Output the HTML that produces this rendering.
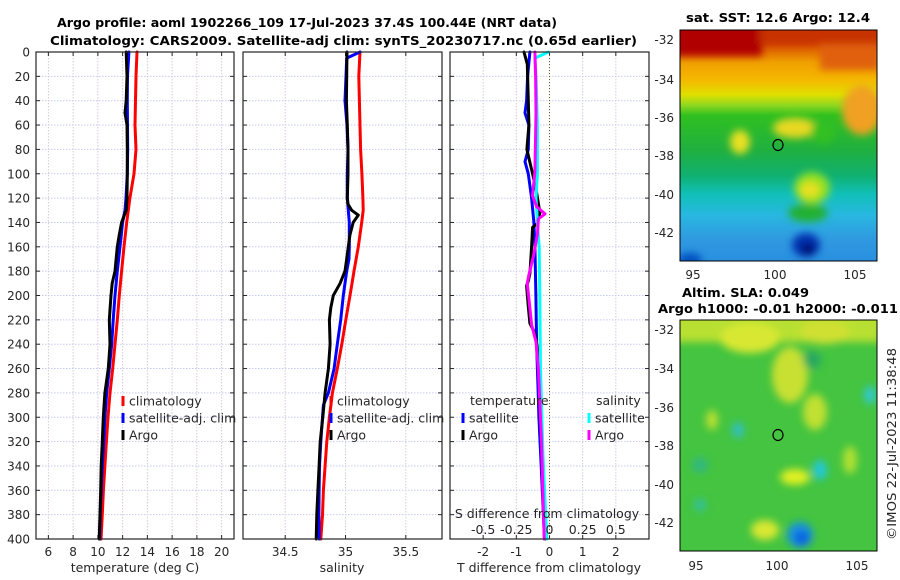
<!DOCTYPE html>
<html><head><meta charset="utf-8">
<style>
html,body{margin:0;padding:0;background:#fff;}
svg{display:block;font-family:"DejaVu Sans","Liberation Sans",sans-serif;}
</style></head>
<body>
<svg id="fig" xmlns="http://www.w3.org/2000/svg" width="900" height="580" viewBox="0 0 900 580">
<defs>
<filter id="blur4" x="-20%" y="-20%" width="140%" height="140%"><feGaussianBlur stdDeviation="4"/></filter>
<filter id="blur2" x="-20%" y="-20%" width="140%" height="140%"><feGaussianBlur stdDeviation="2"/></filter>
<clipPath id="clipSST"><rect x="680" y="30" width="197" height="231"/></clipPath>
<clipPath id="clipSLA"><rect x="680" y="320" width="197" height="231"/></clipPath>
<linearGradient id="sstGrad" x1="0" y1="0" x2="0" y2="1">
<stop offset="0" stop-color="#c02800"/><stop offset="0.065" stop-color="#d85000"/>
<stop offset="0.14" stop-color="#f0a000"/><stop offset="0.216" stop-color="#f5b800"/>
<stop offset="0.28" stop-color="#e0e000"/><stop offset="0.325" stop-color="#90d820"/>
<stop offset="0.37" stop-color="#30c020"/><stop offset="0.52" stop-color="#20b040"/>
<stop offset="0.63" stop-color="#10b070"/><stop offset="0.71" stop-color="#10c0b8"/>
<stop offset="0.80" stop-color="#28b8e0"/><stop offset="0.91" stop-color="#3098e0"/>
<stop offset="1" stop-color="#2890e0"/>
</linearGradient>
</defs>

<g font-weight="bold" font-size="12" fill="#000">
<text x="57" y="27" textLength="500" lengthAdjust="spacingAndGlyphs">Argo profile: aoml 1902266_109 17-Jul-2023 37.4S 100.44E (NRT data)</text>
<text x="50" y="45" textLength="587" lengthAdjust="spacingAndGlyphs">Climatology: CARS2009. Satellite-adj clim: synTS_20230717.nc (0.65d earlier)</text>
</g>

<g id="panels"></g>

<!-- SST map -->
<g>
<g clip-path="url(#clipSST)">
<rect x="680" y="30" width="197" height="231" fill="url(#sstGrad)"/>
<g filter="url(#blur4)">
<rect x="672" y="24" width="90" height="32" fill="#b00000"/>
<rect x="760" y="24" width="120" height="20" fill="#c83000"/>
<rect x="820" y="44" width="60" height="26" fill="#e06010"/>
<ellipse cx="862" cy="110" rx="20" ry="25" fill="#f0a020"/>
<ellipse cx="795" cy="128" rx="22" ry="10" fill="#e8d820"/>
<ellipse cx="823" cy="132" rx="12" ry="12" fill="#30c020"/>
<ellipse cx="740" cy="142" rx="10" ry="12" fill="#e8e020"/>
<ellipse cx="812" cy="188" rx="18" ry="16" fill="#90e020"/>
<ellipse cx="810" cy="190" rx="10" ry="8" fill="#e8e020"/>
<ellipse cx="808" cy="213" rx="20" ry="9" fill="#20b030"/>
<ellipse cx="806" cy="245" rx="14" ry="12" fill="#0030b0"/>
<ellipse cx="808" cy="249" rx="7" ry="6" fill="#001070"/>
<ellipse cx="690" cy="260" rx="12" ry="7" fill="#0050c0"/>
</g>
</g>
<rect x="680" y="30" width="197" height="231" fill="none" stroke="#000" stroke-width="1"/>
<ellipse cx="778" cy="145" rx="5" ry="5.5" fill="none" stroke="#000" stroke-width="1.2"/>
<text x="778" y="22" text-anchor="middle" font-weight="bold" font-size="12" textLength="184" lengthAdjust="spacingAndGlyphs">sat. SST: 12.6 Argo: 12.4</text>
<g font-size="12" fill="#262626" text-anchor="end">
<text x="674" y="44">-32</text><text x="674" y="84">-34</text><text x="674" y="122">-36</text>
<text x="674" y="160">-38</text><text x="674" y="199">-40</text><text x="674" y="237">-42</text>
</g>
<g font-size="12" fill="#262626" text-anchor="middle">
<text x="693" y="279">95</text><text x="775" y="279">100</text><text x="855" y="279">105</text>
</g>
</g>

<!-- SLA map -->
<g>
<g clip-path="url(#clipSLA)">
<rect x="680" y="320" width="197" height="231" fill="#44c440"/>
<g filter="url(#blur4)">
<rect x="672" y="312" width="210" height="30" fill="#b8e030"/>
<ellipse cx="750" cy="338" rx="30" ry="15" fill="#d8e830"/>
<ellipse cx="825" cy="332" rx="25" ry="12" fill="#d0e030"/>
<ellipse cx="790" cy="375" rx="18" ry="28" fill="#c8e030"/>
<ellipse cx="815" cy="412" rx="12" ry="18" fill="#c0e030"/>
<ellipse cx="812" cy="360" rx="9" ry="9" fill="#28a860"/>
<ellipse cx="738" cy="430" rx="6" ry="8" fill="#30c0c0"/>
<ellipse cx="870" cy="395" rx="6" ry="9" fill="#30c8d0"/>
<ellipse cx="820" cy="470" rx="7" ry="10" fill="#20c8d8"/>
<ellipse cx="800" cy="535" rx="13" ry="13" fill="#1890e0"/>
<ellipse cx="802" cy="538" rx="7" ry="7" fill="#1060e0"/>
<ellipse cx="700" cy="505" rx="6" ry="6" fill="#30c0a0"/>
<ellipse cx="700" cy="465" rx="8" ry="8" fill="#30b880"/>
<ellipse cx="795" cy="477" rx="15" ry="8" fill="#e0f020"/>
<ellipse cx="765" cy="530" rx="14" ry="10" fill="#d8e830"/>
<ellipse cx="712" cy="420" rx="6" ry="10" fill="#b8e030"/>
<ellipse cx="850" cy="460" rx="7" ry="14" fill="#b0e030"/>
</g>
</g>
<rect x="680" y="320" width="197" height="231" fill="none" stroke="#000" stroke-width="1"/>
<ellipse cx="778" cy="435" rx="5" ry="5.5" fill="none" stroke="#000" stroke-width="1.2"/>
<text x="682" y="297" font-weight="bold" font-size="12" textLength="127" lengthAdjust="spacingAndGlyphs">Altim. SLA: 0.049</text>
<text x="658" y="313" font-weight="bold" font-size="12" textLength="240" lengthAdjust="spacingAndGlyphs">Argo h1000: -0.01 h2000: -0.011</text>
<g font-size="12" fill="#262626" text-anchor="end">
<text x="674" y="334">-32</text><text x="674" y="373">-34</text><text x="674" y="412">-36</text>
<text x="674" y="450">-38</text><text x="674" y="489">-40</text><text x="674" y="527">-42</text>
</g>
<g font-size="12" fill="#262626" text-anchor="middle">
<text x="696" y="570">95</text><text x="777" y="570">100</text><text x="857" y="570">105</text>
</g>
</g>
<text transform="translate(896,444) rotate(-90)" text-anchor="middle" font-size="12" fill="#262626" textLength="192" lengthAdjust="spacingAndGlyphs">©IMOS 22-Jul-2023 11:38:48</text>

<script>
// ---- data: temperature panel ----
const depthTClim = [0,20,60,80,100,120,140,160,180,200,220,240,260,280,300,320,340,360,380,400];
const tempClim = [13.16,13.08,13.0,13.08,12.92,12.59,12.33,12.11,11.92,11.73,11.57,11.38,11.2,10.98,10.82,10.69,10.57,10.45,10.36,10.25];
const depthTSat = [0,20,40,60,80,100,120,130,140,160,180,200,220,240,260,280,300,320,340,360,380,400];
const tempSat = [12.51,12.39,12.38,12.39,12.41,12.38,12.27,12.19,12.0,11.79,11.57,11.38,11.24,11.12,10.92,10.71,10.57,10.47,10.36,10.27,10.19,10.15];
const depthTArgo = [0,20,40,50,60,80,100,120,130,140,150,160,180,190,200,220,240,260,280,300,320,340,360,380,400];
const tempArgo = [12.29,12.35,12.29,12.19,12.35,12.38,12.38,12.35,12.29,11.92,11.73,11.57,11.38,11.16,11.06,10.92,10.98,10.84,10.57,10.44,10.36,10.27,10.23,10.17,10.11];
// ---- data: salinity panel ----
const depthSClim = [0,20,80,100,120,130,140,160,180,200,220,240,260,280,300,320,340,360,380,400];
const salClim = [35.12,35.11,35.125,35.136,35.144,35.147,35.134,35.106,35.07,35.037,35.002,34.969,34.932,34.891,34.866,34.845,34.831,34.817,34.809,34.795];
const depthSSat = [0,5,20,40,60,80,100,120,140,160,170,180,200,220,240,260,280,290,300,320,340,360,380,400];
const salSat = [35.12,35.01,35.004,34.996,35.012,35.021,35.015,35.015,35.031,35.031,35.029,35.01,34.982,34.96,34.932,34.905,34.858,34.817,34.809,34.795,34.784,34.781,34.779,34.781];
const depthSArgo = [0,20,40,60,80,100,120,125,130,134,140,150,160,170,180,190,200,210,220,240,260,280,300,320,340,360,380,400];
const salArgo = [35.012,35.01,35.007,35.015,35.021,35.021,35.015,35.021,35.051,35.106,35.064,35.037,35.023,35.01,34.996,34.955,34.899,34.878,34.866,34.872,34.858,34.831,34.812,34.79,34.781,34.771,34.762,34.757];
// ---- data: difference panel ----
const depthDTSat = [0,20,40,50,60,80,90,100,120,140,160,200,240,280,300,340,400];
const diffTSat = [-0.59,-0.66,-0.69,-0.74,-0.62,-0.64,-0.74,-0.64,-0.54,-0.47,-0.44,-0.41,-0.39,-0.34,-0.32,-0.25,-0.15];
const depthDTArgo = [0,10,40,60,80,100,112,132,141,144,160,182,188,192,209,223,231,242,260,300,340,400];
const diffTArgo = [-0.77,-0.67,-0.64,-0.62,-0.68,-0.51,-0.41,-0.29,-0.37,-0.51,-0.54,-0.59,-0.64,-0.69,-0.64,-0.59,-0.44,-0.37,-0.31,-0.28,-0.2,-0.12];
const depthDSSat = [0,5,20,60,100,120,140,160,200,260,330,400];
const diffSSat = [-0.008,-0.11,-0.102,-0.091,-0.091,-0.102,-0.091,-0.078,-0.073,-0.068,-0.05,-0.02];
const depthDSArgo = [0,20,50,99,118,127,133,137,150,167,182,190,205,224,238,260,320,400];
const diffSArgo = [-0.11,-0.105,-0.102,-0.11,-0.128,-0.097,-0.034,-0.084,-0.091,-0.12,-0.153,-0.168,-0.153,-0.135,-0.102,-0.084,-0.06,-0.04];
// ---- ticks ----
const depthTicks = [0,20,40,60,80,100,120,140,160,180,200,220,240,260,280,300,320,340,360,380,400];
const tempTicks = [6,8,10,12,14,16,18,20];
const salTicks = [34.5,35,35.5];
const salTickLabels = ["34.5","35","35.5"];
const tdTicks = [-2,-1,0,1,2];
const sdTicks = [-0.5,-0.25,0,0.25,0.5];
const sdTickLabels = ["-0.5","-0.25","0","0.25","0.5"];

const NS = "http://www.w3.org/2000/svg";
const root = document.getElementById('panels');
const Y0 = 52, Y1 = 539;
function yDepth(d){ return Y0 + d*(Y1-Y0)/400; }
function lin(d0,d1,r0,r1){ return v => r0 + (v-d0)*(r1-r0)/(d1-d0); }
const xTemp = lin(5,21,36,234);
const xSal = lin(34.15,35.8,243,442);
const xTd = lin(-3,3,450,649);
const xSd = lin(-0.75,0.75,450,649);

function mk(tag, attrs, parent){
  const e = document.createElementNS(NS, tag);
  for (const k in attrs) e.setAttribute(k, attrs[k]);
  (parent||root).appendChild(e);
  return e;
}
function txt(s, x, y, anchor, parent, size){
  const t = mk('text', {x:x, y:y, 'text-anchor':anchor||'start', 'font-size':size||12, fill:'#262626'}, parent);
  t.textContent = s;
  return t;
}

function drawFrame(name, x0, x1, xTicksPos){
  const g = mk('g', {});
  
  
  // grid
  depthTicks.forEach(d => {
    const y = yDepth(d);
    const l = mk('line', {x1:x0, x2:x1, y1:y, y2:y, stroke:'#c6cbf0', 'stroke-width':1, 'stroke-dasharray':'1.5,1.5'}, g);
    
    
  });
  xTicksPos.forEach(x => {
    const l = mk('line', {x1:x, x2:x, y1:Y0, y2:Y1, stroke:'#d8c8e0', 'stroke-width':1, 'stroke-dasharray':'1.5,1.5'}, g);
    
    
  });
  // ticks
  depthTicks.forEach(d => {
    const y = yDepth(d);
    mk('line', {x1:x0, x2:x0+4, y1:y, y2:y, stroke:'#262626'}, g);
    mk('line', {x1:x1-4, x2:x1, y1:y, y2:y, stroke:'#262626'}, g);
  });
  xTicksPos.forEach(x => {
    mk('line', {x1:x, x2:x, y1:Y1, y2:Y1-4, stroke:'#262626'}, g);
    mk('line', {x1:x, x2:x, y1:Y0, y2:Y0+4, stroke:'#262626'}, g);
  });
  return g;
}
function drawBox(x0,x1){
  mk('rect', {x:x0, y:Y0, width:x1-x0, height:Y1-Y0, fill:'none', stroke:'#262626', 'stroke-width':1.2});
}
function drawLine(name, depths, vals, xf, color){
  const pts = depths.map((d,i) => xf(vals[i]).toFixed(1)+','+yDepth(d).toFixed(1)).join(' ');
  const p = mk('polyline', {points:pts, fill:'none', stroke:color, 'stroke-width':3, 'stroke-linejoin':'round', 'stroke-linecap':'round'});
  
  
}
function legendItem(name, x, y, color, label){
  const g = mk('g', {});
  
  
  mk('rect', {x:x-1.5, y:y-5, width:3, height:10, fill:color}, g);
  if (label) txt(label, x+6, y+4.5, 'start', g, 12.5);
}

// ---- Panel 1: temperature ----
drawFrame('temperature-panel', 36, 234, tempTicks.map(xTemp));
drawLine('temperature-climatology-line', depthTClim, tempClim, xTemp, '#ff0000');
drawLine('temperature-satellite-line', depthTSat, tempSat, xTemp, '#0000ff');
drawLine('temperature-argo-line', depthTArgo, tempArgo, xTemp, '#000000');
drawBox(36,234);
const yl = mk('g', {});


depthTicks.forEach(d => txt(String(d), 30, yDepth(d)+4.5, 'end', yl));
const tl = mk('g', {});


tempTicks.forEach(t => txt(String(t), xTemp(t), 556, 'middle', tl));
const tt = txt('temperature (deg C)', 135, 572, 'middle', null, 12.5);


legendItem('legend-climatology', 123, 401, '#ff0000', 'climatology');
legendItem('legend-satellite-adj', 123, 418, '#0000ff', 'satellite-adj. clim');
legendItem('legend-argo', 123, 435, '#000000', 'Argo');

// ---- Panel 2: salinity ----
drawFrame('salinity-panel', 243, 442, salTicks.map(xSal));
drawLine('salinity-climatology-line', depthSClim, salClim, xSal, '#ff0000');
drawLine('salinity-satellite-line', depthSSat, salSat, xSal, '#0000ff');
drawLine('salinity-argo-line', depthSArgo, salArgo, xSal, '#000000');
drawBox(243,442);
const sl = mk('g', {});


salTicks.forEach((s,i) => txt(salTickLabels[i], xSal(s), 556, 'middle', sl));
const st = txt('salinity', 342, 572, 'middle', null, 12.5);


legendItem('legend-climatology-s', 331, 401, '#ff0000', 'climatology');
legendItem('legend-satellite-adj-s', 331, 418, '#0000ff', 'satellite-adj. clim');
legendItem('legend-argo-s', 331, 435, '#000000', 'Argo');

// ---- Panel 3: differences ----
drawFrame('difference-panel', 450, 649, tdTicks.map(xTd));
const zl = mk('line', {x1:xTd(0), x2:xTd(0), y1:Y0, y2:Y1, stroke:'#606020', 'stroke-width':1, 'stroke-dasharray':'1,2'});


drawLine('t-diff-satellite-line', depthDTSat, diffTSat, xTd, '#0000ff');
drawLine('t-diff-argo-line', depthDTArgo, diffTArgo, xTd, '#000000');
drawLine('s-diff-satellite-line', depthDSSat, diffSSat, xSd, '#00ffff');
drawLine('s-diff-argo-line', depthDSArgo, diffSArgo, xSd, '#ff00ff');
drawBox(450,649);
const dl = mk('g', {});


tdTicks.forEach(t => txt(String(t), xTd(t), 556, 'middle', dl));
const dt = txt('T difference from climatology', 549, 572, 'middle', null, 12.5);


const sdl = mk('g', {});


sdTicks.forEach((s,i) => txt(sdTickLabels[i], xSd(s), 534, 'middle', sdl, 12.5));
const sdt = txt('S difference from climatology', 547, 518, 'middle', null, 12.5);


const lt = txt('temperature', 470, 405, 'start', null, 12.5);


const ls = txt('salinity', 596, 405, 'start', null, 12.5);


legendItem('legend-t-satellite', 463, 418, '#0000ff', 'satellite');
legendItem('legend-t-argo', 463, 435, '#000000', 'Argo');
legendItem('legend-s-satellite', 589, 418, '#00ffff', 'satellite');
legendItem('legend-s-argo', 589, 435, '#ff00ff', 'Argo');
</script>
</svg>
</body></html>
